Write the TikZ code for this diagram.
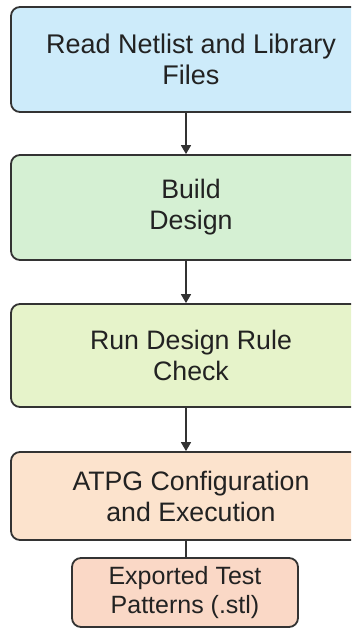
\documentclass[tikz,border=0pt]{standalone}
\usepackage{fontspec}
\setmainfont{Liberation Sans}
\usetikzlibrary{arrows.meta}
\definecolor{cA}{HTML}{CDEBFA}
\definecolor{cB}{HTML}{D5F0D3}
\definecolor{cC}{HTML}{E6F3CA}
\definecolor{cD}{HTML}{FCE3CD}
\definecolor{cE}{HTML}{FAD8C6}
\definecolor{edge}{HTML}{333333}
\definecolor{txt}{HTML}{222222}
\tikzset{
  box/.style={draw=edge, line width=1.8pt, rounded corners=9pt, align=center, text=txt, inner sep=0pt},
  conn/.style={draw=edge, line width=1.6pt},
  arr/.style={conn, -{Triangle[width=10pt,length=9pt]}}
}
\begin{document}
\begin{tikzpicture}[x=1pt,y=-1pt]
\useasboundingbox (0,0) rectangle (351,628);
\clip (0,0) rectangle (351,628);
\fill[white] (0,0) rectangle (351,628);
\node[box, fill=cA, minimum width=360pt, minimum height=105pt, font=\fontsize{27}{31}\selectfont] (a) at (191,59.5) {Read Netlist and Library\\Files};
\node[box, fill=cB, minimum width=360pt, minimum height=105pt, font=\fontsize{26.7}{31}\selectfont] (b) at (191,207.5) {Build\\Design};
\node[box, fill=cC, minimum width=360pt, minimum height=103pt, font=\fontsize{26.7}{31}\selectfont] (c) at (191,355.5) {Run Design Rule\\Check};
\node[box, fill=cD, minimum width=360pt, minimum height=88pt, font=\fontsize{26.7}{31}\selectfont] (d) at (191,496) {ATPG Configuration\\and Execution};
\node[box, fill=cE, minimum width=226pt, minimum height=69pt, font=\fontsize{25}{29}\selectfont] (e) at (185,592.5) {Exported Test\\Patterns (.stl)};
\draw[arr] (a.south -| 186,0) -- (b.north -| 186,0);
\draw[arr] (b.south -| 186,0) -- (c.north -| 186,0);
\draw[arr] (c.south -| 186,0) -- (d.north -| 186,0);
\draw[conn] (d.south -| 186,0) -- (e.north -| 186,0);
\end{tikzpicture}
\end{document}
